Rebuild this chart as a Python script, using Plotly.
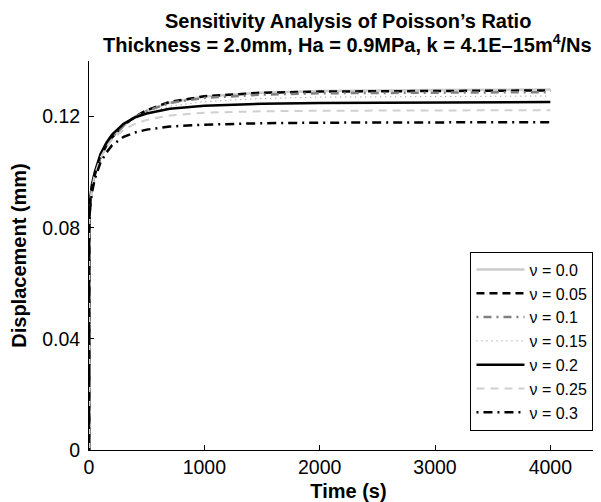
import plotly.graph_objects as go

# time axis (s)
time_s = [0, 1, 10, 25, 50, 100, 150, 200, 300, 400, 500, 700, 1000, 1500, 2000, 3000, 4000]

# displacement (mm) for each Poisson's ratio
disp_00 = [0, 0.082, 0.089, 0.0945, 0.099, 0.1055, 0.1095, 0.1125, 0.1168, 0.1199, 0.1221, 0.1250, 0.1272, 0.1286, 0.1292, 0.1296, 0.1297]
disp_05 = [0, 0.082, 0.089, 0.0945, 0.099, 0.1055, 0.1095, 0.1125, 0.1169, 0.1200, 0.1223, 0.1253, 0.1273, 0.1286, 0.1290, 0.1293, 0.1294]
disp_10 = [0, 0.082, 0.089, 0.0945, 0.099, 0.1055, 0.1095, 0.1125, 0.1168, 0.1199, 0.1220, 0.1249, 0.1267, 0.1279, 0.1284, 0.1287, 0.1288]
disp_15 = [0, 0.082, 0.089, 0.0945, 0.099, 0.1056, 0.1096, 0.1126, 0.1166, 0.1194, 0.1213, 0.1237, 0.1254, 0.1265, 0.1270, 0.1273, 0.1274]
disp_20 = [0, 0.083, 0.090, 0.0955, 0.100, 0.1065, 0.1105, 0.1135, 0.1174, 0.1197, 0.1211, 0.1228, 0.1239, 0.1246, 0.1249, 0.1251, 0.1252]
disp_25 = [0, 0.082, 0.089, 0.0945, 0.0990, 0.1052, 0.1090, 0.1117, 0.1153, 0.1174, 0.1188, 0.1204, 0.1214, 0.1219, 0.1221, 0.1223, 0.1223]
disp_30 = [0, 0.080, 0.087, 0.0925, 0.0975, 0.1035, 0.1070, 0.1097, 0.1127, 0.1143, 0.1153, 0.1164, 0.1171, 0.1176, 0.1178, 0.1180, 0.1180]

labels = ["ν = 0.0", "ν = 0.05", "ν = 0.1", "ν = 0.15", "ν = 0.2", "ν = 0.25", "ν = 0.3"]
series = [disp_00, disp_05, disp_10, disp_15, disp_20, disp_25, disp_30]

styles = [
    dict(color="#cccccc", width=2.5, dash="solid"),
    dict(color="black", width=2.5, dash="8px,5px"),
    dict(color="#808080", width=2.5, dash="2px,5px,8px,5px"),
    dict(color="#888888", width=1, dash="1px,4px"),
    dict(color="black", width=2.5, dash="solid"),
    dict(color="#d0d0d0", width=2, dash="8px,6px"),
    dict(color="black", width=2.5, dash="2px,5px,9px,5px"),
]

font_family = "Liberation Sans, Arial, sans-serif"

fig = go.Figure()
for lab, ys, st in zip(labels, series, styles):
    fig.add_trace(go.Scatter(x=time_s, y=ys, mode="lines", name=lab, line=st))

fig.update_layout(
    width=601, height=502,
    margin=dict(l=81, r=1, t=53, b=60),
    paper_bgcolor="white", plot_bgcolor="white",
    font=dict(family=font_family, size=19.5, color="black"),
    showlegend=True,
    legend=dict(
        x=0.735, xanchor="left", y=0.05, yanchor="bottom",
        bordercolor="black", borderwidth=1, bgcolor="white",
        font=dict(size=16, family=font_family),
        itemwidth=48,
    ),
)

# two title lines
title_lines = [
    ("<b>Sensitivity Analysis of Poisson’s Ratio</b>", 1.103),
    ("<b>Thickness = 2.0mm, Ha = 0.9MPa, k = 4.1E–15m<sup>4</sup>/Ns</b>", 1.045),
]
for txt, ypos in title_lines:
    fig.add_annotation(
        text=txt, xref="paper", yref="paper", x=0.499, y=ypos,
        xanchor="center", yanchor="middle", showarrow=False,
        font=dict(size=20, family=font_family),
    )

fig.update_xaxes(
    range=[0, 4500], tickvals=[0, 1000, 2000, 3000, 4000],
    ticks="inside", ticklen=5, tickcolor="black",
    showline=True, linecolor="black", linewidth=1,
    showgrid=False, zeroline=False, automargin=False,
    title=dict(text="<b>Time (s)</b>", font=dict(size=20), standoff=6),
)
fig.update_yaxes(
    range=[0, 0.14], tickvals=[0, 0.04, 0.08, 0.12],
    ticktext=["0", "0.04", "0.08", "0.12"],
    ticks="inside", ticklen=5, tickcolor="black",
    showline=True, linecolor="black", linewidth=1,
    showgrid=False, zeroline=False, automargin=False,
    ticklabelstandoff=4,
    title=dict(text="<b>Displacement (mm)</b>", font=dict(size=20), standoff=10),
)

fig.write_html("out.html")
